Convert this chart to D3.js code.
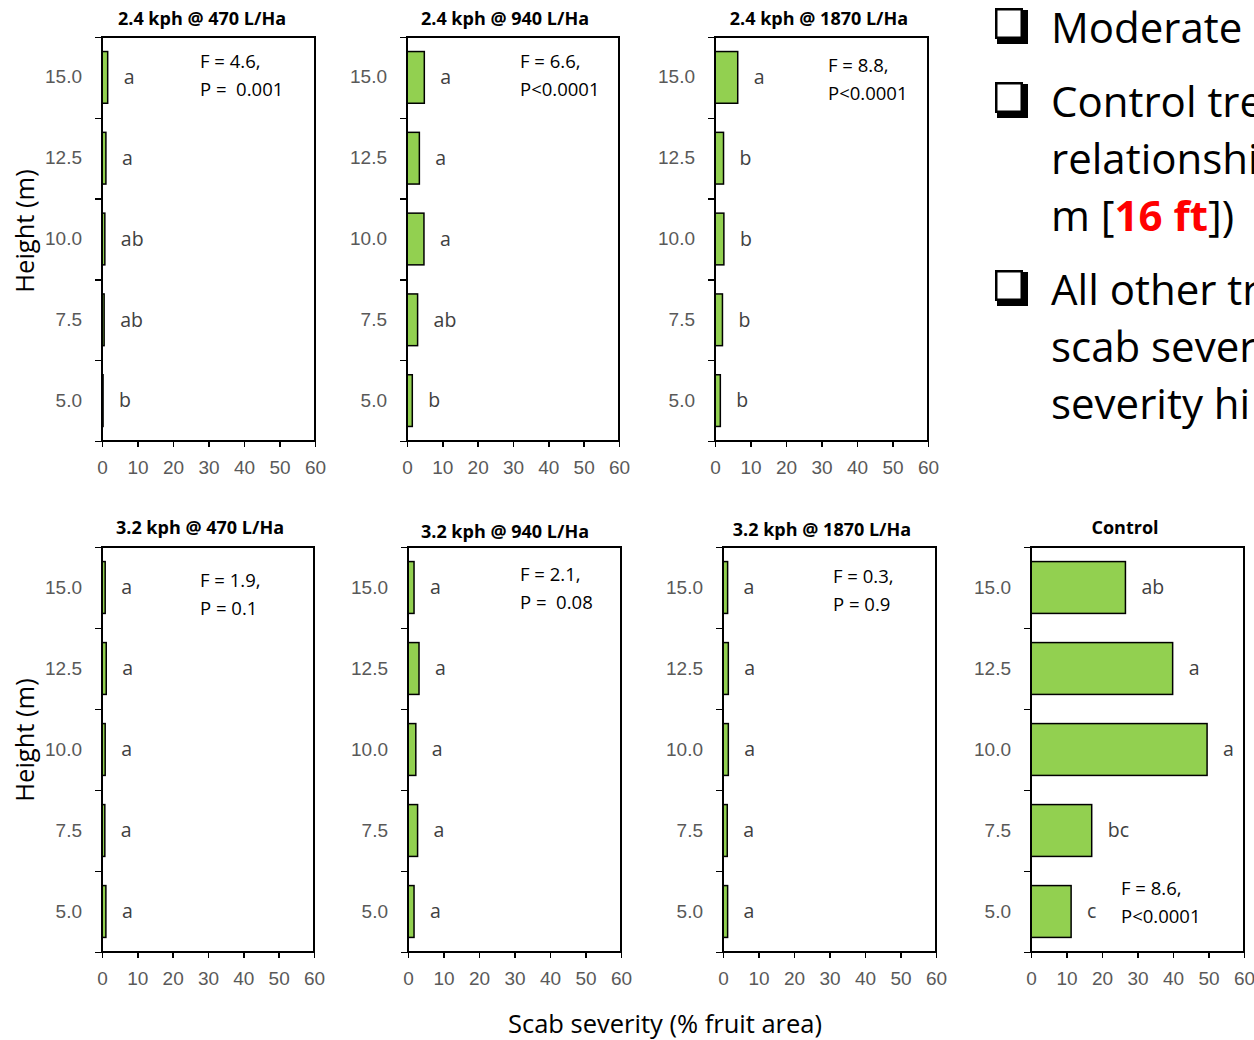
<!DOCTYPE html>
<html lang="en">
  <head>
    <meta charset="UTF-8"/>
    <title>Scab severity by height</title>
    <script src="https://d3js.org/d3.v7.min.js"></script>
    <style>
        body { margin: 0; background: #fff; }
        svg { font-family: "Open Sans", sans-serif; }
        .axis path, .axis line { stroke: #000; stroke-width: 1.5; shape-rendering: crispEdges; }
        .axis text { fill: #595959; font-size: 19px; }
        .frame { fill: none; stroke: #000; stroke-width: 1.5; shape-rendering: crispEdges; }
        .bar { fill: #92d050; stroke: #000; stroke-width: 1.5; }
        .title { font-weight: bold; font-size: 18px; fill: #000; }
        .letter { font-size: 19.5px; fill: #404040; }
        .stat { font-size: 18.5px; fill: #000; white-space: pre; }
        .axtitle { font-size: 25.5px; fill: #000; }
        .bullet { font-size: 42px; fill: #000; }
    </style>
  </head>
  <body>
    <script>
        // data
        const heights = ["15.0", "12.5", "10.0", "7.5", "5.0"]
        const xTicks = [0, 10, 20, 30, 40, 50, 60]

        const titles = [
          "2.4 kph @ 470 L/Ha", "2.4 kph @ 940 L/Ha", "2.4 kph @ 1870 L/Ha",
          "3.2 kph @ 470 L/Ha", "3.2 kph @ 940 L/Ha", "3.2 kph @ 1870 L/Ha",
          "Control"
        ]

        // scab severity (% fruit area), ordered like heights
        const sev470a  = [1.6, 1.1, 0.8, 0.6, 0.3]
        const sev940a  = [4.9, 3.5, 4.8, 3.0, 1.5]
        const sev1870a = [6.4, 2.4, 2.5, 2.1, 1.5]
        const sev470b  = [0.9, 1.2, 0.9, 0.8, 1.1]
        const sev940b  = [1.7, 3.1, 2.2, 2.7, 1.7]
        const sev1870b = [1.3, 1.5, 1.5, 1.2, 1.3]
        const sevCtrl  = [26.6, 39.9, 49.6, 17.1, 11.3]

        const letters470a  = ["a", "a", "ab", "ab", "b"]
        const letters940a  = ["a", "a", "a", "ab", "b"]
        const letters1870a = ["a", "b", "b", "b", "b"]
        const lettersB     = ["a", "a", "a", "a", "a"]
        const lettersCtrl  = ["ab", "a", "a", "bc", "c"]

        const stats = [
          ["F = 4.6,", "P =  0.001"], ["F = 6.6,", "P<0.0001"], ["F = 8.8,", "P<0.0001"],
          ["F = 1.9,", "P = 0.1"], ["F = 2.1,", "P =  0.08"], ["F = 0.3,", "P = 0.9"],
          ["F = 8.6,", "P<0.0001"]
        ]

        const values = [sev470a, sev940a, sev1870a, sev470b, sev940b, sev1870b, sevCtrl]
        const letters = [letters470a, letters940a, letters1870a, lettersB, lettersB, lettersB, lettersCtrl]

        // panel layout: plot area left/right/top/bottom, title centre, stat text offset
        const layout = [
          {x0: 102, x1: 315, top: 37,  bottom: 441, tx: 202,  ty: 19,  sx: 98,  sy: 25},
          {x0: 407, x1: 619, top: 37,  bottom: 441, tx: 505,  ty: 19,  sx: 113, sy: 25},
          {x0: 715, x1: 928, top: 37,  bottom: 441, tx: 819,  ty: 19,  sx: 113, sy: 29},
          {x0: 102, x1: 314, top: 547, bottom: 952, tx: 200,  ty: 528, sx: 98,  sy: 34},
          {x0: 408, x1: 621, top: 547, bottom: 952, tx: 505,  ty: 532, sx: 112, sy: 28},
          {x0: 723, x1: 936, top: 547, bottom: 952, tx: 822,  ty: 530, sx: 110, sy: 30},
          {x0: 1031, x1: 1244, top: 547, bottom: 952, tx: 1125, ty: 528, sx: 90, sy: 342}
        ]

        const svg = d3.select("body").append("svg")
            .attr("width", 1254)
            .attr("height", 1040)

        layout.forEach((L, i) => {
          const data = heights.map((h, j) => ({h: h, v: values[i][j], l: letters[i][j]}))

          const x = d3.scaleLinear().domain([0, 60]).range([L.x0, L.x1])
          const y = d3.scaleBand().domain(heights).range([L.top, L.bottom])
              .paddingInner(0.36).paddingOuter(0.18)
          // band edges for the category tick marks
          const edge = d3.scaleLinear().domain([0, heights.length]).range([L.top, L.bottom])

          const g = svg.append("g")

          g.append("rect")
              .attr("class", "frame")
              .attr("x", L.x0)
              .attr("y", L.top)
              .attr("width", L.x1 - L.x0)
              .attr("height", L.bottom - L.top)

          g.selectAll(".bar")
            .data(data)
            .join("rect")
              .attr("class", "bar")
              .attr("x", x(0))
              .attr("y", d => y(d.h))
              .attr("width", d => x(d.v) - x(0))
              .attr("height", y.bandwidth())

          g.selectAll(".letter")
            .data(data)
            .join("text")
              .attr("class", "letter")
              .attr("x", d => x(d.v) + 16)
              .attr("y", d => y(d.h) + y.bandwidth() / 2)
              .attr("dy", "0.35em")
              .text(d => d.l)

          // y labels
          g.append("g")
              .attr("class", "axis")
              .attr("transform", `translate(${L.x0}, 0)`)
              .call(d3.axisLeft(y).tickSize(0).tickPadding(20))
              .call(a => a.select(".domain").remove())

          // y tick marks at the band edges
          g.append("g")
              .attr("class", "axis")
              .attr("transform", `translate(${L.x0}, 0)`)
              .call(d3.axisLeft(edge).ticks(heights.length).tickSize(7).tickSizeOuter(0).tickFormat(""))

          g.append("g")
              .attr("class", "axis")
              .attr("transform", `translate(0, ${L.bottom})`)
              .call(d3.axisBottom(x).tickValues(xTicks).tickSize(6).tickSizeOuter(0).tickPadding(14))

          g.append("text")
              .attr("class", "title")
              .attr("x", L.tx)
              .attr("y", L.ty)
              .attr("dy", "0.35em")
              .attr("text-anchor", "middle")
              .text(titles[i])

          g.selectAll(".stat")
            .data(stats[i])
            .join("text")
              .attr("class", "stat")
              .attr("x", L.x0 + L.sx)
              .attr("y", (d, k) => L.top + L.sy + k * 28)
              .attr("dy", "0.35em")
              .text(d => d)
        })

        // axis titles
        ;[231, 740].forEach(cy => {
          svg.append("text")
              .attr("class", "axtitle")
              .attr("transform", `translate(25, ${cy}) rotate(-90)`)
              .attr("text-anchor", "middle")
              .attr("dy", "0.35em")
              .text("Height (m)")
        })

        svg.append("text")
            .attr("class", "axtitle")
            .attr("x", 665)
            .attr("y", 1024)
            .attr("dy", "0.35em")
            .attr("text-anchor", "middle")
            .text("Scab severity (% fruit area)")

        // slide text on the right, cut by the page edge as in the original
        const lines = [
          {y: 43,  box: true,  parts: [["Moderate", false]]},
          {y: 117, box: true,  parts: [["Control tre", false]]},
          {y: 174, box: false, parts: [["relationshi", false]]},
          {y: 231, box: false, parts: [["m [", false], ["16 ft", true], ["])", false]]},
          {y: 305, box: true,  parts: [["All other tr", false]]},
          {y: 362, box: false, parts: [["scab sever", false]]},
          {y: 419, box: false, parts: [["severity hi", false]]}
        ]

        lines.forEach(ln => {
          if (ln.box) {
            // shadowed check box
            svg.append("rect")
                .attr("x", 997).attr("y", ln.y - 33)
                .attr("width", 31).attr("height", 34)
                .attr("fill", "#000")
            svg.append("rect")
                .attr("x", 995).attr("y", ln.y - 35)
                .attr("width", 28).attr("height", 31)
                .attr("fill", "#000")
            svg.append("rect")
                .attr("x", 997.5).attr("y", ln.y - 32.5)
                .attr("width", 23).attr("height", 26)
                .attr("fill", "#fff")
          }
          const t = svg.append("text")
              .attr("class", "bullet")
              .attr("x", 1051)
              .attr("y", ln.y)
          ln.parts.forEach(p => {
            t.append("tspan")
                .attr("font-weight", p[1] ? "bold" : null)
                .attr("fill", p[1] ? "#ff0000" : null)
                .text(p[0])
          })
        })
    </script>
  </body>
</html>
